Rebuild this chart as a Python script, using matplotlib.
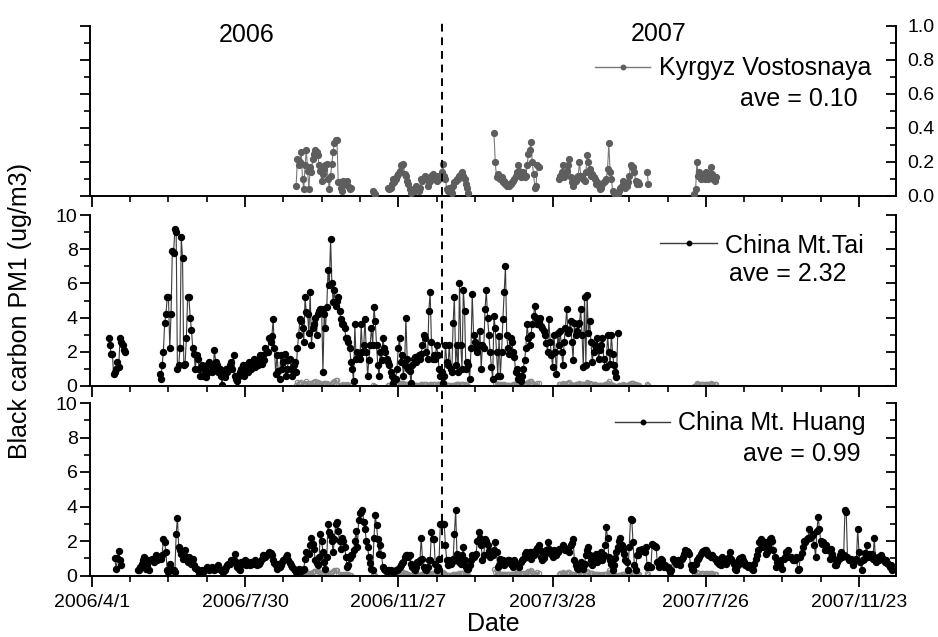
import numpy as np
import pandas as pd
import matplotlib
matplotlib.use("Agg")
import matplotlib.pyplot as plt
import matplotlib.dates as mdates
import matplotlib.transforms as mtransforms
from matplotlib.lines import Line2D
from matplotlib.ticker import MultipleLocator, FixedLocator

plt.rcParams['font.family'] = ['Liberation Sans', 'DejaVu Sans']

# ---------------- data ----------------
AXIS_START = "2006-04-01"
AXIS_END = "2007-12-22"
SPLIT_DATE = "2006-12-31"
xtick_dates = ["2006-04-01", "2006-07-30", "2006-11-27", "2007-03-28", "2007-07-26", "2007-11-23"]
xtick_labels = ["2006/4/1", "2006/7/30", "2006/11/27", "2007/3/28", "2007/7/26", "2007/11/23"]

# Kyrgyz Vostosnaya (daily segments)
kyr_starts = ["2006-09-08", "2006-11-07", "2006-11-19", "2007-02-10", "2007-04-02", "2007-06-10", "2007-07-17"]
kyr_a = [0.06, 0.22, 0.18, 0.20, 0.26, 0.10, 0.04, 0.18, 0.27, 0.15, 0.04, 0.17, 0.14, 0.22, 0.25,
         0.27, 0.26, 0.24, 0.18, 0.15, 0.09, 0.13, 0.16, 0.18, 0.19, 0.10, 0.04, 0.12, 0.19, 0.26,
         0.31, 0.33, 0.33, 0.08, 0.08, 0.05, 0.03, 0.09, 0.07, 0.08, 0.09, 0.06, 0.04, 0.05]
kyr_b = [0.03, 0.02, 0.01]
kyr_c = [0.05, 0.04, 0.05, 0.07, 0.10, 0.08, 0.10, 0.12, 0.13, 0.15, 0.18, 0.18, 0.19, 0.13, 0.12,
         0.09, 0.07, 0.04, 0.02, 0.03, 0.04, 0.03, 0.06, 0.04, 0.03, 0.05, 0.10, 0.09, 0.10, 0.12,
         0.10, 0.06, 0.08, 0.09, 0.12, 0.13, 0.11, 0.10, 0.09, 0.12, 0.10, 0.12, 0.14, 0.19, 0.12,
         0.10, 0.04, 0.03, 0.05, 0.04, 0.02, 0.06, 0.08, 0.09, 0.10, 0.10, 0.12, 0.13, 0.14, 0.12,
         0.10, 0.07, 0.05, 0.02]
kyr_d = [0.37, 0.20, 0.11, 0.13, 0.12, 0.10, 0.11, 0.08, 0.09, 0.07, 0.06, 0.07, 0.06, 0.07, 0.08,
         0.09, 0.10, 0.12, 0.14, 0.18, 0.15, 0.11, 0.13, 0.14, 0.11, 0.12, 0.18, 0.25, 0.27, 0.32,
         0.20, 0.13, 0.05, 0.06, 0.18, 0.17]
kyr_e = [0.10, 0.12, 0.14, 0.18, 0.11, 0.13, 0.15, 0.18, 0.22, 0.11, 0.08, 0.06, 0.08, 0.09, 0.11,
         0.12, 0.20, 0.12, 0.11, 0.10, 0.09, 0.14, 0.24, 0.20, 0.16, 0.12, 0.13, 0.11, 0.10, 0.07,
         0.08, 0.06, 0.04, 0.05, 0.07, 0.08, 0.09, 0.10, 0.16, 0.31, 0.14, 0.10, 0.03, 0.02, 0.01,
         0.00, 0.01, 0.03, 0.05, 0.06, 0.09, 0.06, 0.05, 0.06, 0.08, 0.12, 0.18, 0.17, 0.17, 0.14,
         0.09, 0.07, 0.08, 0.07]
kyr_e2 = [0.14, 0.07]
kyr_f = [0.01, 0.04, 0.20, 0.12, 0.14, 0.10, 0.12, 0.13, 0.10, 0.14, 0.13, 0.10, 0.13, 0.17, 0.13,
         0.10, 0.09, 0.11]
kyr_segments = [kyr_a, kyr_b, kyr_c, kyr_d, kyr_e, kyr_e2, kyr_f]

# China Mt.Tai (daily segments)
tai_starts = ["2006-04-14", "2006-05-24"]
tai_a = [2.8, 2.4, 1.9, 1.9, 0.7, 0.8, 1.0, 1.4, 1.1, 2.8, 2.6, 2.4, 2.1, 2.0]
tai_b = [0.7, 0.4, 1.2, 2.0, 3.7, 4.2, 5.2, 5.2, 2.2, 4.2,
         7.9, 7.8, 9.2, 9.0, 1.0, 1.2, 2.2, 8.7, 7.5, 1.2,
         1.3, 2.8, 5.2, 5.2, 4.0, 3.3, 2.2, 1.9, 1.0, 1.8,
         1.6, 1.0, 0.6, 1.2, 0.6, 1.0, 0.5, 1.2, 0.8, 1.4,
         1.2, 0.8, 1.0, 2.1, 1.4, 1.2, 0.8, 1.0, 0.6, 0.05,
         0.8, 0.5, 1.0, 0.8, 1.0, 1.2, 1.4, 1.0, 1.8, 0.6,
         0.4, 0.3, 0.6, 0.8, 1.0, 1.2, 0.6, 1.0, 1.2, 0.8,
         1.4, 1.2, 1.0, 1.3, 1.6, 1.1, 1.4, 1.2, 1.6, 1.8,
         1.3, 1.8, 1.5, 2.2, 2.0, 2.0, 2.8, 2.6, 2.9, 3.9,
         2.2, 0.7, 1.8, 0.9, 0.4, 1.8, 1.0, 1.4, 1.9, 0.6,
         1.0, 1.5, 1.6, 1.0, 0.6, 1.2, 1.4, 0.8, 2.2, 3.0,
         3.9, 3.8, 3.4, 2.6, 5.2, 4.3, 4.2, 3.1, 5.5, 2.4,
         3.4, 3.6, 4.0, 3.0, 4.2, 4.4, 4.5, 4.5, 0.8, 4.2,
         3.4, 4.6, 6.8, 5.9, 8.6, 6.0, 4.9, 5.6, 4.7, 5.0,
         5.2, 4.4, 3.9, 3.6, 3.6, 3.4, 2.8, 2.8, 2.6, 2.2,
         1.4, 1.0, 0.3, 3.6, 1.6, 2.0, 1.8, 1.6, 3.6, 2.0,
         2.4, 3.9, 2.0, 0.6, 1.5, 2.4, 3.4, 2.4, 4.6, 3.8,
         2.4, 1.2, 0.6, 2.0, 1.5, 2.8, 2.2, 2.0, 1.6, 1.4,
         1.2, 0.8, 0.6, 0.2, 0.4, 0.4, 1.0, 2.2, 2.8, 1.4,
         1.8, 0.6, 1.2, 4.0, 1.6, 1.0, 0.9, 0.15, 1.2, 1.6,
         1.7, 1.4, 1.5, 1.8, 1.6, 1.9, 2.4, 3.0, 2.8, 2.0,
         1.6, 4.4, 5.5, 2.6, 1.6, 1.8, 1.6, 2.4, 1.8, 1.0,
         0.6, 0.8, 0.2, 0.6, 2.4, 1.4, 1.2, 2.4, 1.0, 0.8,
         3.7, 5.2, 1.2, 2.4, 0.8, 6.0, 2.4, 1.0, 5.6, 4.4,
         1.0, 1.4, 1.2, 0.4, 2.2, 5.4, 3.0, 2.6, 2.2, 2.0,
         2.4, 3.2, 1.0, 2.4, 2.2, 4.5, 5.6, 4.0, 3.0, 2.0,
         1.1, 0.4, 4.1, 3.4, 2.0, 0.6, 2.9, 0.6, 2.0, 3.9,
         5.5, 7.0, 3.0, 2.2, 1.9, 2.8, 2.6, 2.0, 1.7, 0.8,
         1.0, 0.4, 0.6, 0.3, 0.6, 1.0, 1.5, 2.2, 3.6, 2.8,
         2.4, 3.0, 3.6, 4.1, 4.7, 4.0, 3.6, 3.8, 4.0, 3.5,
         3.4, 3.2, 3.0, 2.5, 2.0, 3.9, 2.6, 1.8, 1.1, 3.0,
         2.0, 0.7, 3.1, 2.4, 3.2, 2.0, 1.2, 2.6, 3.4, 4.5,
         3.1, 3.3, 3.8, 2.6, 1.5, 3.7, 3.0, 3.2, 3.6, 3.7,
         4.5, 3.0, 1.1, 5.2, 1.2, 5.3, 3.1, 3.8, 2.6, 1.4,
         2.0, 2.4, 2.2, 2.8, 1.6, 2.1, 2.4, 2.8, 1.6, 1.1,
         1.1, 3.0, 2.0, 1.3, 3.0, 1.9, 1.2, 0.8, 0.5, 3.1]
tai_segments = [tai_a, tai_b]

# China Mt. Huang (daily segments)
huang_starts = ["2006-04-19", "2006-05-07"]
huang_a = [1.0, 0.35, 1.0, 1.4, 0.9, 0.6]
huang_b = [0.33, 0.29, 0.5, 0.68, 0.9, 1.1, 0.39, 0.6, 0.87, 0.29,
           0.91, 0.97, 0.9, 0.78, 1.16, 0.87, 1.0, 1.1, 0.97, 1.2,
           2.1, 1.94, 1.36, 0.29, 0.2, 0.68, 0.39, 0.29, 0.29, 0.2,
           2.4, 3.35, 1.65, 1.45, 1.26, 0.97, 1.2, 1.45, 1.07, 0.78,
           1.07, 0.9, 0.68, 0.97, 0.58, 0.45, 0.39, 0.29, 0.1, 0.25,
           0.29, 0.2, 0.29, 0.35, 0.48, 0.39, 0.29, 0.4, 0.48, 0.39,
           0.29, 0.4, 0.48, 0.58, 0.39, 0.29, 0.25, 0.2, 0.29, 0.48,
           0.6, 0.68, 0.68, 0.87, 0.78, 0.9, 1.26, 0.78, 0.48, 0.35,
           0.29, 0.78, 0.68, 0.75, 0.87, 0.58, 0.78, 0.65, 0.58, 0.78,
           0.68, 0.75, 0.87, 0.58, 0.78, 0.68, 0.8, 0.97, 1.16, 1.07,
           1.1, 1.16, 1.26, 1.36, 1.3, 1.16, 0.87, 0.7, 0.58, 0.39,
           0.68, 0.48, 0.6, 0.78, 0.87, 0.97, 1.05, 1.16, 0.87, 0.7,
           0.58, 0.48, 0.39, 0.29, 0.2, 0.1, 0.39, 0.2, 0.29, 0.3,
           0.39, 0.97, 1.36, 1.3, 1.26, 1.74, 2.2, 1.8, 1.55, 0.87,
           0.7, 0.58, 1.07, 2.4, 2.0, 1.36, 0.8, 0.39, 1.07, 3.0,
           2.5, 2.3, 2.0, 1.36, 2.1, 3.0, 3.1, 2.6, 2.0, 1.55,
           2.2, 2.0, 1.65, 1.1, 0.48, 0.58, 1.0, 1.16, 1.16, 1.45,
           2.0, 2.6, 1.65, 3.2, 3.6, 3.7, 3.8, 3.1, 2.7, 2.0,
           1.65, 1.07, 0.7, 0.39, 0.29, 2.2, 3.5, 2.9, 2.1, 1.26,
           1.74, 1.16, 0.48, 0.35, 0.29, 0.2, 0.29, 0.29, 0.29, 0.25,
           0.2, 0.23, 0.29, 0.3, 0.39, 0.48, 0.58, 0.7, 0.78, 1.07,
           1.16, 1.16, 1.1, 1.16, 0.68, 0.48, 0.35, 0.29, 0.48, 0.78,
           0.8, 0.87, 2.2, 0.97, 0.48, 0.35, 0.29, 0.48, 0.87, 0.9,
           2.5, 2.1, 2.1, 0.68, 0.29, 0.5, 0.97, 3.0, 3.0, 3.0,
           3.0, 1.74, 0.9, 0.58, 0.87, 0.68, 0.8, 0.97, 2.4, 3.8,
           1.26, 1.0, 0.78, 0.68, 1.2, 1.65, 0.87, 0.48, 0.39, 0.4,
           0.58, 0.87, 1.16, 1.1, 1.16, 1.26, 2.0, 2.5, 2.2, 1.74,
           0.87, 1.2, 2.1, 2.0, 1.74, 1.4, 1.07, 1.36, 1.16, 1.5,
           1.94, 1.36, 0.48, 0.6, 0.97, 0.87, 0.87, 0.58, 0.7, 0.78,
           0.87, 0.87, 0.68, 0.6, 0.48, 0.87, 0.68, 0.6, 0.58, 0.48,
           0.78, 0.9, 0.97, 1.26, 1.36, 1.07, 1.2, 1.36, 0.97, 1.36,
           1.16, 1.3, 1.45, 1.6, 1.74, 1.45, 1.07, 0.87, 1.0, 1.26,
           1.45, 1.94, 1.55, 1.4, 1.26, 1.07, 1.45, 1.3, 1.16, 1.36,
           1.55, 1.55, 1.6, 1.74, 1.65, 1.5, 1.45, 1.55, 1.36, 1.74,
           1.9, 2.1, 0.87, 0.58, 0.45, 0.39, 0.58, 0.78, 0.6, 0.39,
           0.68, 1.2, 1.45, 1.65, 1.16, 0.87, 0.58, 0.8, 0.97, 1.26,
           0.78, 0.87, 1.1, 1.36, 0.87, 1.2, 1.74, 2.8, 2.2, 1.07,
           0.9, 0.68, 0.29, 0.58, 1.0, 1.36, 1.65, 2.0, 2.2, 1.74,
           1.45, 1.26, 0.9, 0.78, 0.29, 1.65, 3.3, 3.2, 1.94, 0.58,
           0.3, 1.16, 1.2, 1.45, 1.45, 1.55, 1.4, 1.36, 1.65, 0.48,
           0.58, 0.5, 0.48, 1.84, 1.74, 1.7, 1.65, 0.78, 0.48, 0.6,
           0.97, 0.87, 0.48, 0.58, 0.5, 0.48, 0.35, 0.2, 0.29, 0.97,
           0.87, 0.8, 0.68, 0.87, 0.7, 0.58, 0.97, 1.07, 1.26, 1.45,
           1.4, 1.36, 1.26, 0.6, 0.39, 0.29, 0.58, 0.68, 0.87, 0.97,
           1.07, 1.26, 1.36, 1.4, 1.45, 1.45, 1.36, 1.2, 1.16, 1.07,
           1.16, 1.1, 0.97, 0.97, 0.8, 0.68, 0.87, 0.58, 1.07, 0.78,
           0.7, 0.68, 0.87, 1.1, 1.36, 0.97, 0.8, 0.68, 0.39, 0.29,
           0.58, 0.97, 1.0, 1.07, 0.87, 0.78, 0.6, 0.58, 0.48, 0.58,
           0.48, 0.35, 0.29, 0.68, 0.97, 1.16, 1.5, 1.94, 2.1, 1.65,
           1.8, 1.94, 1.26, 1.36, 1.7, 2.1, 2.2, 2.0, 1.5, 1.07,
           0.48, 0.78, 0.6, 0.58, 0.87, 0.39, 0.97, 1.1, 1.36, 1.45,
           1.07, 1.1, 1.07, 0.87, 0.97, 0.9, 1.07, 0.29, 0.39, 1.07,
           1.3, 1.65, 2.0, 1.94, 2.1, 2.2, 2.7, 2.2, 2.3, 2.4,
           1.74, 1.07, 2.6, 3.4, 2.7, 2.0, 1.84, 1.94, 1.45, 1.74,
           1.6, 1.45, 0.97, 1.55, 1.26, 1.0, 0.58, 0.58, 0.78, 0.97,
           1.2, 1.36, 1.07, 1.16, 3.8, 3.7, 1.07, 0.87, 0.9, 0.97,
           0.58, 0.87, 0.9, 0.97, 2.7, 1.36, 0.8, 0.29, 0.87, 0.97,
           1.3, 1.74, 1.07, 1.26, 1.2, 1.26, 0.97, 2.2, 0.78, 0.9,
           1.07, 0.87, 1.16, 1.0, 0.97, 0.78, 0.87, 0.75, 0.68, 0.48,
           0.58, 0.29]
huang_segments = [huang_a, huang_b]

series_names = ["Kyrgyz Vostosnaya", "China Mt.Tai", "China Mt. Huang"]
series_aves = ["ave = 0.10", "ave = 2.32", "ave = 0.99"]

# ---------------- figure ----------------
W, H = 938, 637
fig = plt.figure(figsize=(W / 100, H / 100), dpi=100)

def fx(px):
    return px / W

def fy(py):
    return 1 - py / H

L, R = 90, 896
ax_top = fig.add_axes([fx(L), fy(196), fx(R - L), (196 - 26) / H])
ax_mid = fig.add_axes([fx(L), fy(386), fx(R - L), (386 - 215) / H])
ax_bot = fig.add_axes([fx(L), fy(575.5), fx(R - L), (575.5 - 403) / H])

def seg_dates(start, vals):
    return mdates.date2num(pd.date_range(start, periods=len(vals), freq="D").to_pydatetime())

x0 = mdates.date2num(pd.Timestamp(AXIS_START).to_pydatetime())
x1 = mdates.date2num(pd.Timestamp(AXIS_END).to_pydatetime())
xt = [mdates.date2num(pd.Timestamp(d).to_pydatetime()) for d in xtick_dates]
xminor = [t + k * 30 for t in xt for k in (1, 2, 3) if t + k * 30 < x1]

# top panel: Kyrgyz
for st, vals in zip(kyr_starts, kyr_segments):
    ax_top.plot(seg_dates(st, vals), vals, color="#7a7a7a", lw=0.8, marker="o", ms=4.2,
                mfc="#5e5e5e", mec="#5e5e5e", zorder=3)

# middle & bottom: faint Kyrgyz overlay
for ax in (ax_mid, ax_bot):
    for st, vals in zip(kyr_starts, kyr_segments):
        ax.plot(seg_dates(st, vals), vals, color="#9a9a9a", lw=0.7, marker="o", ms=3.2,
                mfc="none", mec="#8a8a8a", mew=0.8, zorder=2)

for st, vals in zip(tai_starts, tai_segments):
    ax_mid.plot(seg_dates(st, vals), vals, color="#3a3a3a", lw=0.8, marker="o", ms=4.3,
                mfc="black", mec="black", zorder=3)
for st, vals in zip(huang_starts, huang_segments):
    ax_bot.plot(seg_dates(st, vals), vals, color="#3a3a3a", lw=0.8, marker="o", ms=4.3,
                mfc="black", mec="black", zorder=3)

for ax in (ax_top, ax_mid, ax_bot):
    ax.set_xlim(x0 - 1.5, x1)
    ax.spines["top"].set_visible(False)
    for s in ("left", "right", "bottom"):
        ax.spines[s].set_linewidth(1.4)
    ax.xaxis.set_major_locator(FixedLocator(xt))
    ax.xaxis.set_minor_locator(FixedLocator(xminor))
    ax.tick_params(axis="x", which="major", direction="out", length=8, width=1.3, labelsize=14, pad=5)
    ax.tick_params(axis="x", which="minor", direction="out", length=4.5, width=1.2)
    ax.tick_params(axis="y", which="major", direction="out", length=7, width=1.3, labelsize=14,
                   left=True, right=False, pad=2)
    ax.tick_params(axis="y", which="minor", direction="out", length=4, width=1.2, left=True, right=False)
    ax.patch.set_alpha(0)

ax_bot.set_xticklabels(xtick_labels)
ax_top.set_xticklabels([])
ax_mid.set_xticklabels([])

# y axes for middle/bottom
for ax in (ax_mid, ax_bot):
    ax.set_ylim(0, 10)
    ax.yaxis.set_major_locator(MultipleLocator(2))
    ax.yaxis.set_minor_locator(MultipleLocator(1))
    ax.set_yticklabels([str(int(v)) for v in ax.get_yticks()])
    twin = ax.twinx()
    twin.set_ylim(0, 10)
    twin.yaxis.set_major_locator(MultipleLocator(2))
    twin.yaxis.set_minor_locator(MultipleLocator(1))
    twin.tick_params(axis="y", which="major", direction="in", length=7, width=1.3, labelright=False)
    twin.tick_params(axis="y", which="minor", direction="in", length=4, width=1.2)
    for s in twin.spines.values():
        s.set_visible(False)

# top panel y axis
ax_top.set_ylim(0, 1.0)
ax_top.yaxis.set_major_locator(MultipleLocator(0.2))
ax_top.yaxis.set_minor_locator(MultipleLocator(0.1))
ax_top.set_yticklabels([])
tw = ax_top.twinx()
tw.set_ylim(0, 1.0)
tw.yaxis.set_major_locator(MultipleLocator(0.2))
tw.yaxis.set_minor_locator(MultipleLocator(0.1))
tw.set_yticklabels([f"{v:.1f}" for v in tw.get_yticks()])
tw.tick_params(axis="y", which="major", direction="in", length=7, width=1.3, labelsize=14, pad=8)
tw.tick_params(axis="y", which="minor", direction="in", length=4, width=1.2)
for s in tw.spines.values():
    s.set_visible(False)

# dashed separator across all panels
sx = mdates.date2num(pd.Timestamp(SPLIT_DATE).to_pydatetime())
trans = mtransforms.blended_transform_factory(ax_bot.transData, fig.transFigure)
fig.add_artist(Line2D([sx, sx], [fy(575.5), fy(23)], transform=trans, color="black",
                      lw=1.4, ls=(0, (4, 3)), zorder=5))

# year labels
fig.text(fx(247), fy(35), "2006", fontsize=18, ha="center", va="center")
fig.text(fx(659), fy(34), "2007", fontsize=18, ha="center", va="center")

# legends
leg = [
    (595, 650, 67, "#7a7a7a", "#5e5e5e", 659, 75, series_names[0], 740, 106, series_aves[0]),
    (660, 717, 243, "#3a3a3a", "black", 725, 253, series_names[1], 729, 281, series_aves[1]),
    (615, 670, 422, "#3a3a3a", "black", 678, 430, series_names[2], 743, 461, series_aves[2]),
]
for xa, xb, yl, lc, mc, tx, ty, name, ax_, ay, ave in leg:
    fig.add_artist(Line2D([fx(xa), fx(xb)], [fy(yl), fy(yl)], color=lc, lw=1.0))
    fig.add_artist(Line2D([fx((xa + xb) / 2)], [fy(yl)], color=mc, marker="o", ms=3.2, lw=0))
    fig.text(fx(tx), fy(ty), name, fontsize=18, ha="left", va="baseline")
    fig.text(fx(ax_), fy(ay), ave, fontsize=18, ha="left", va="baseline")

# axis labels
fig.text(fx(493), fy(624), "Date", fontsize=18, ha="center", va="center")
fig.text(fx(20), fy(311), "Black carbon PM1 (ug/m3)", fontsize=18, ha="center", va="center", rotation=90)

fig.savefig("out.png", dpi=100)
